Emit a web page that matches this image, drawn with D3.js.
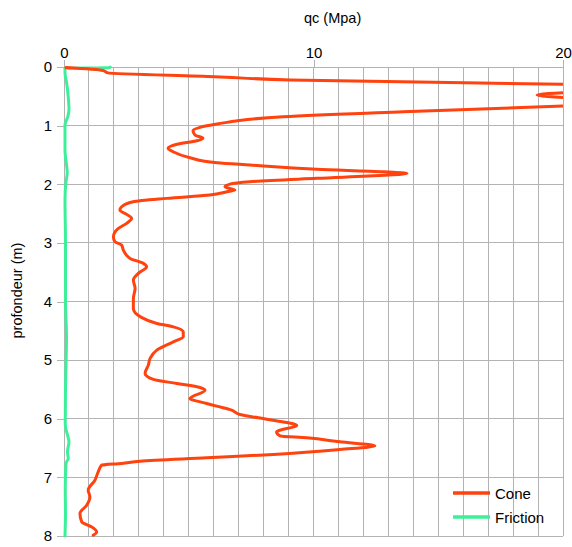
<!DOCTYPE html>
<html>
<head>
<meta charset="utf-8">
<script src="https://cdn.jsdelivr.net/npm/d3@7/dist/d3.min.js"></script>
<style>
  html, body { margin: 0; padding: 0; background: #fff; }
  svg { display: block; font-family: "Liberation Sans", Arial, sans-serif; }
</style>
</head>
<body>
<svg id="chart" width="572" height="547"></svg>
<script>
// ---- data ----
const xTickValues = [0, 10, 20];
const yTickValues = [0, 1, 2, 3, 4, 5, 6, 7, 8];
const seriesNames = ["Cone", "Friction"];
const seriesColors = ["#ff420e", "#3cf09a"];

const coneDepth = [0.01, 0.06, 0.10, 0.165, 0.22, 0.295, 0.37, 0.43, 0.478, 0.53, 0.59, 0.665,
  0.763, 0.848, 0.973, 1.029, 1.087, 1.160, 1.217, 1.258, 1.319, 1.387, 1.445, 1.548, 1.633,
  1.672, 1.746, 1.787, 1.814, 1.848, 1.899, 1.957, 1.997, 2.043, 2.099, 2.128, 2.184, 2.241,
  2.299, 2.384, 2.440, 2.514, 2.582, 2.667, 2.753, 2.896, 2.981, 3.038, 3.123, 3.265, 3.350,
  3.408, 3.520, 3.635, 3.776, 3.947, 4.118, 4.27, 4.374, 4.432, 4.517, 4.602, 4.688, 4.829,
  4.971, 5.085, 5.227, 5.329, 5.398, 5.466, 5.512, 5.654, 5.739, 5.785, 5.853, 5.927, 6.007,
  6.063, 6.109, 6.224, 6.292, 6.326, 6.394, 6.462, 6.524, 6.609, 6.667, 6.724, 6.763, 6.792,
  6.906, 7.048, 7.218, 7.333, 7.474, 7.616, 7.759, 7.845, 7.930, 7.986];
const coneValue = [0.08, 1.56, 1.76, 6.05, 9.06, 20.0, 26.0, 20.6, 18.96, 20.6, 26.0, 20.0,
  13.59, 8.78, 6.13, 5.45, 5.17, 5.25, 5.57, 5.33, 4.53, 4.17, 4.37, 5.05, 6.13,
  7.45, 10.14, 12.79, 13.75, 12.79, 10.14, 7.45, 6.65, 6.45, 6.85, 6.53, 5.85, 4.12,
  2.77, 2.31, 2.24, 2.51, 2.71, 2.51, 2.18, 1.98, 2.04, 2.31, 2.38, 2.65, 3.18,
  3.31, 2.98, 2.78, 2.85, 2.78, 2.78, 3.1, 3.72, 4.38, 4.78, 4.78, 4.38, 3.72,
  3.45, 3.38, 3.25, 3.58, 4.52, 5.45, 5.65, 5.05, 5.72, 6.12, 6.72, 7.05, 8.12,
  8.93, 9.33, 8.52, 8.66, 9.73, 11.06, 12.46, 11.06, 8.39, 5.72, 3.05, 2.31, 1.51,
  1.37, 1.24, 0.97, 1.04, 0.91, 0.64, 0.71, 1.11, 1.31, 1.17];

const frictionDepth = [0.0, 0.012, 0.022, 0.1, 0.28, 0.51, 0.73, 0.85, 0.99, 1.42, 1.81, 1.96,
  2.27, 3.0, 4.0, 4.6, 5.5, 6.1, 6.31, 6.39, 6.56, 6.68, 6.76, 7.2, 7.6, 8.0];
const frictionValue = [1.85, 1.8, 0.04, 0.04, 0.11, 0.17, 0.2, 0.15, 0.04, 0.04, 0.13, 0.08,
  0.04, 0.06, 0.06, 0.1, 0.06, 0.05, 0.16, 0.2, 0.14, 0.17, 0.08, 0.05, 0.06, 0.04];

// ---- layout ----
const svg = d3.select("#chart");
const pLeft = 64, pRight = 563, pTop = 67, pBottom = 536;
const x = d3.scaleLinear().domain([0, 20]).range([pLeft, pRight]);
const y = d3.scaleLinear().domain([0, 8]).range([pTop, pBottom]);
const gridColor = "#b3b3b3";

// grid
const grid = svg.append("g").attr("shape-rendering", "crispEdges");
grid.selectAll("line.v").data(d3.range(0, 21)).join("line").attr("class", "v")
  .attr("x1", d => x(d)).attr("x2", d => x(d))
  .attr("y1", pTop).attr("y2", pBottom)
  .attr("stroke", gridColor).attr("stroke-width", 1);
grid.selectAll("line.h").data(yTickValues).join("line").attr("class", "h")
  .attr("x1", pLeft).attr("x2", pRight)
  .attr("y1", d => y(d)).attr("y2", d => y(d))
  .attr("stroke", gridColor).attr("stroke-width", 1);

// axes
const xAxis = d3.axisTop(x).tickValues(xTickValues).tickSize(7).tickPadding(2).tickFormat(d3.format("d"));
const gx = svg.append("g").attr("transform", `translate(0,${pTop})`).call(xAxis);
const yAxis = d3.axisLeft(y).tickValues(yTickValues).tickSize(7).tickPadding(5).tickFormat(d3.format("d"));
const gy = svg.append("g").attr("transform", `translate(${pLeft},0)`).call(yAxis);
[gx, gy].forEach(g => {
  g.selectAll("path.domain").attr("stroke", gridColor).attr("shape-rendering", "crispEdges");
  g.selectAll(".tick line").attr("stroke", gridColor).attr("shape-rendering", "crispEdges");
  g.selectAll(".tick text").attr("fill", "#000").style("font-size", "15px")
    .style("font-family", '"Liberation Sans", Arial, sans-serif');
});
gx.selectAll("path.domain").attr("d", `M${pLeft},0H${pRight}`);
gy.selectAll("path.domain").attr("d", `M0,${pTop}V${pBottom}`);

// titles
svg.append("text").attr("x", 304).attr("y", 23).attr("font-size", 14.5).attr("fill", "#000")
  .text("qc (Mpa)");
svg.append("text").attr("transform", "translate(22,290.5) rotate(-90)")
  .attr("text-anchor", "middle").attr("font-size", 14.5).attr("fill", "#000")
  .text("profondeur (m)");

// clip
svg.append("clipPath").attr("id", "plotclip").append("rect")
  .attr("x", 0).attr("y", 0).attr("width", pRight).attr("height", 547);

const line = d3.line().x(d => x(d[0])).y(d => y(d[1])).curve(d3.curveMonotoneY);
const coneData = coneValue.map((v, i) => [v, coneDepth[i]]);
const frictionData = frictionValue.map((v, i) => [v, frictionDepth[i]]);

const plot = svg.append("g").attr("clip-path", "url(#plotclip)");
plot.append("path").datum(frictionData).attr("d", line)
  .attr("fill", "none").attr("stroke", seriesColors[1]).attr("stroke-width", 3)
  .attr("stroke-linejoin", "round").attr("stroke-linecap", "round");
plot.append("path").datum(coneData).attr("d", line)
  .attr("fill", "none").attr("stroke", seriesColors[0]).attr("stroke-width", 3)
  .attr("stroke-linejoin", "round").attr("stroke-linecap", "round");

// legend
const legend = svg.append("g");
const legY = [493, 517];
seriesNames.forEach((name, i) => {
  legend.append("line").attr("x1", 453).attr("x2", 490)
    .attr("y1", legY[i]).attr("y2", legY[i])
    .attr("stroke", seriesColors[i]).attr("stroke-width", 3.5);
  legend.append("text").attr("x", 495).attr("y", legY[i] + 6)
    .attr("font-size", 15).attr("fill", "#000").text(name);
});
</script>
</body>
</html>
